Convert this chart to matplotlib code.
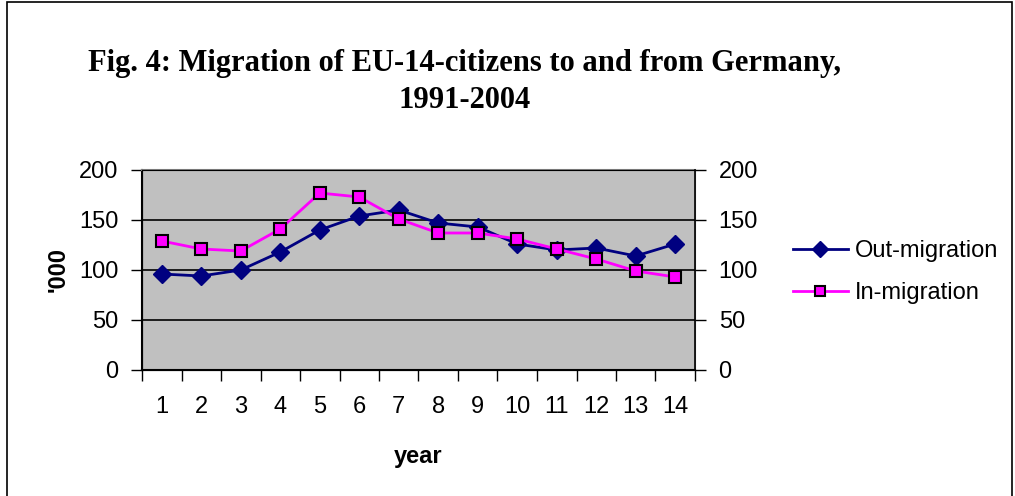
import matplotlib.pyplot as plt
from matplotlib.patches import Rectangle

years = list(range(1, 15))
out_migration = [96, 94, 100, 118, 140, 154, 160, 147, 143, 126, 120, 122, 114, 126]
in_migration = [129, 121, 119, 141, 177, 173, 151, 137, 137, 131, 121, 111, 99, 93]
y_ticks = [0, 50, 100, 150, 200]

plt.rcParams['font.family'] = ['Liberation Sans', 'DejaVu Sans']

fig = plt.figure(figsize=(10.15, 4.96), dpi=100)
W, H = 1015, 496
FS = 17

# outer chart border (like the Excel chart frame)
fig.patches.append(Rectangle((7 / W, -0.02), (1012 - 7) / W, 1.02 - 2 / H,
                             transform=fig.transFigure, fill=False,
                             edgecolor='black', linewidth=1.2))

ax = fig.add_axes([142 / W, (H - 370) / H, (695 - 142) / W, 200 / H])
ax.set_facecolor('#c0c0c0')

ax.plot(years, out_migration, color='#000080', linewidth=2, marker='D',
        markersize=9.5, markerfacecolor='#000080', markeredgecolor='#000080',
        label='Out-migration', zorder=3)
ax.plot(years, in_migration, color='#ff00ff', linewidth=2, marker='s',
        markersize=9, markerfacecolor='#ff00ff', markeredgecolor='black',
        markeredgewidth=1.5, label='In-migration', zorder=4)

ax.set_xlim(0.5, 14.5)
ax.set_ylim(0, 200)
ax.set_yticks(y_ticks)
ax.grid(axis='y', color='black', linewidth=1.2)
ax.set_axisbelow(True)

# category boundaries get ticks, labels sit in between
ax.set_xticks([y + 0.5 for y in [0] + years])
ax.set_xticklabels([])
ax.set_xticks(years, minor=True)
ax.set_xticklabels([str(y) for y in years], minor=True)
ax.tick_params(axis='x', which='major', direction='out', length=8, width=1)
ax.tick_params(axis='x', which='minor', length=0, pad=19, labelsize=FS)
ax.tick_params(axis='y', direction='out', length=8, width=1, pad=9, labelsize=FS)

for s in ['left', 'bottom']:
    ax.spines[s].set_color('black')
    ax.spines[s].set_linewidth(1.5)
ax.spines['top'].set_color('#808080')
ax.spines['top'].set_linewidth(1.5)
ax.spines['right'].set_color('#808080')

ax2 = ax.twinx()
ax2.set_ylim(0, 200)
ax2.set_yticks(y_ticks)
ax2.tick_params(axis='y', direction='out', length=8, width=1, pad=9, labelsize=FS)
ax2.spines['right'].set_color('black')
ax2.spines['right'].set_linewidth(1.2)

ax.set_ylabel("'000", fontsize=FS, fontweight='bold', labelpad=7)
ax.set_xlabel('year', fontsize=FS, fontweight='bold', labelpad=19)

fig.text(465 / W, 1 - 82 / H, 'Fig. 4: Migration of EU-14-citizens to and from Germany,\n1991-2004',
         ha='center', va='center', fontsize=22, fontweight='bold',
         family=['Liberation Serif', 'DejaVu Serif'], linespacing=1.4)

fig.legend(loc='center left', bbox_to_anchor=(772 / W, 1 - 272 / H), frameon=False,
           fontsize=FS, handlelength=2.3, handletextpad=0.3, labelspacing=0.85,
           borderaxespad=0.5, borderpad=0.4, markerscale=0.85)

fig.savefig('out.png', dpi=100)
